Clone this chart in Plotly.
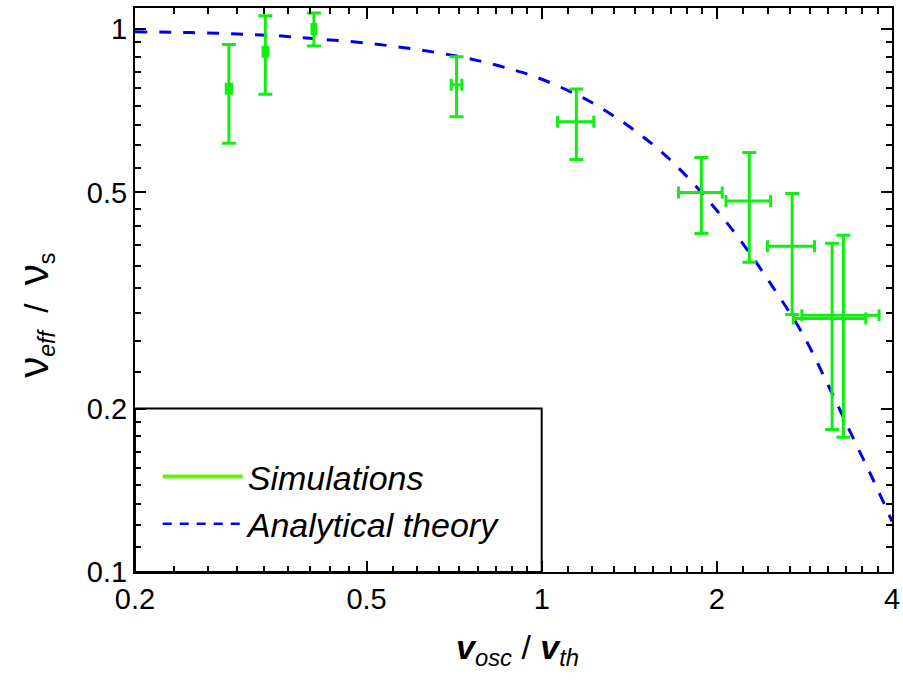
import numpy as np
import plotly.graph_objects as go

# Simulation results (v_osc/v_th, normalised effective collision rate) with error bars
sim_x = [0.290, 0.335, 0.406, 0.714, 1.147, 1.881, 2.274, 2.694, 3.156, 3.30]
sim_x_err = [0.003, 0.003, 0.003, 0.015, 0.082, 0.162, 0.20, 0.25, 0.45, 0.50]
sim_y = [0.776, 0.908, 1.0, 0.789, 0.675, 0.50, 0.482, 0.398, 0.293, 0.297]
sim_y_err = [0.16, 0.15, 0.07, 0.10, 0.10, 0.08, 0.11, 0.10, 0.11, 0.12]

# Analytical theory curve
theory_x = [0.2, 0.25, 0.3, 0.35, 0.4, 0.5, 0.6, 0.7, 0.8, 0.9, 1.0, 1.2, 1.4,
            1.6, 1.8, 2.0, 2.2, 2.5, 2.8, 3.1, 3.4, 3.7, 4.0]
theory_y = [0.988, 0.985, 0.979, 0.972, 0.961, 0.942, 0.919, 0.895, 0.868, 0.839,
            0.808, 0.739, 0.666, 0.596, 0.527, 0.463, 0.407, 0.334, 0.276, 0.222,
            0.180, 0.149, 0.124]

# Axis ticks
x_major = [0.2, 0.5, 1, 2, 4]
x_labels = ["0.2", "0.5", "1", "2", "4"]
y_major = [0.1, 0.2, 0.5, 1]
y_labels = ["0.1", "0.2", "0.5", "1"]

X_MIN, X_MAX = 0.2, 4.0
Y_MIN, Y_MAX = 0.1, 1.093

GREEN = "#11ee11"
LEGEND_GREEN = "#66ee11"
BLUE = "#0000ee"
FONT = "Liberation Sans"


def minor_ticks(majors, n=8):
    """n linearly spaced minor ticks between each pair of major ticks."""
    out = []
    for a, b in zip(majors[:-1], majors[1:]):
        out.extend(np.linspace(a, b, n + 2)[1:-1].tolist())
    return out


fig = go.Figure()

fig.add_trace(go.Scatter(
    x=theory_x, y=theory_y, mode="lines",
    line=dict(color=BLUE, width=3, dash="12px,12px", shape="spline"),
    showlegend=False, hoverinfo="skip",
))

fig.add_trace(go.Scatter(
    x=sim_x, y=sim_y, mode="markers",
    marker=dict(size=1, color=GREEN),
    error_y=dict(type="data", array=sim_y_err, color=GREEN, thickness=3, width=7),
    error_x=dict(type="data", array=sim_x_err, color=GREEN, thickness=3, width=6),
    showlegend=False,
))

# legend entries
fig.add_trace(go.Scatter(
    x=[None], y=[None], mode="lines", name="<i>Simulations</i>",
    line=dict(color=LEGEND_GREEN, width=4),
))
fig.add_trace(go.Scatter(
    x=[None], y=[None], mode="lines", name="<i>Analytical theory</i>",
    line=dict(color=BLUE, width=2.5, dash="9px,8px"),
))

lx_span = np.log10(X_MAX) - np.log10(X_MIN)
ly_span = np.log10(Y_MAX) - np.log10(Y_MIN)
box_x1 = (np.log10(1.0) - np.log10(X_MIN)) / lx_span
box_y1 = (np.log10(0.2) - np.log10(Y_MIN)) / ly_span

axis_common = dict(
    type="log", showgrid=False, zeroline=False, automargin=False,
    showline=True, linecolor="black", linewidth=2, mirror="ticks",
    ticks="inside", ticklen=11, tickwidth=2, tickcolor="black",
    tickfont=dict(family=FONT, size=29, color="black"),
    tickmode="array",
)

fig.update_layout(
    width=903, height=684,
    margin=dict(l=135, r=11, t=8, b=112, autoexpand=False),
    paper_bgcolor="white", plot_bgcolor="white",
    font=dict(family=FONT, color="black"),
    xaxis=dict(
        axis_common,
        range=[np.log10(X_MIN), np.log10(X_MAX)],
        tickvals=x_major, ticktext=x_labels,
        minor=dict(tickmode="array", tickvals=minor_ticks(x_major), ticks="inside",
                   ticklen=6, tickwidth=2, tickcolor="black", showgrid=False),
    ),
    yaxis=dict(
        axis_common,
        range=[np.log10(Y_MIN), np.log10(Y_MAX)],
        tickvals=y_major, ticktext=y_labels,
        minor=dict(tickmode="array", tickvals=minor_ticks(y_major), ticks="inside",
                   ticklen=6, tickwidth=2, tickcolor="black", showgrid=False),
    ),
    legend=dict(
        x=0.03, y=0.22, xanchor="left", yanchor="top",
        bgcolor="rgba(0,0,0,0)", borderwidth=0,
        font=dict(family=FONT, size=34, color="black"),
        itemwidth=80, tracegroupgap=0,
    ),
    shapes=[dict(
        type="rect", xref="paper", yref="paper",
        x0=0, x1=box_x1, y0=0, y1=box_y1,
        line=dict(color="black", width=2), fillcolor="rgba(0,0,0,0)",
    )],
    annotations=[
        dict(
            xref="paper", yref="paper", x=0.505, y=-0.138,
            xanchor="center", yanchor="middle", showarrow=False,
            text="<b><i>v</i></b><sub><i>osc</i></sub> / <b><i>v</i></b><sub><i>th</i></sub>",
            font=dict(family=FONT, size=34, color="black"),
        ),
        dict(
            xref="paper", yref="paper", x=-0.1324, y=0.4557,
            xanchor="center", yanchor="middle", showarrow=False, textangle=-90,
            text=("<span style='font-size:42px'>ν</span><sub><i>eff</i></sub>"
                  "  /  <span style='font-size:42px'>ν</span><sub>s</sub>"),
            font=dict(family=FONT, size=33, color="black"),
        ),
    ],
)

fig.write_html("out.html")
